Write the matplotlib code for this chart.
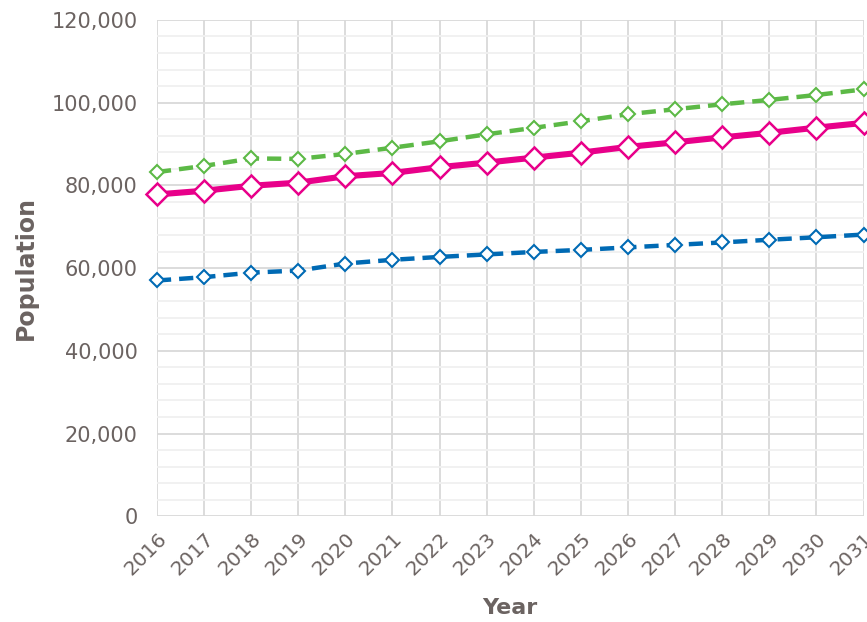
import matplotlib.pyplot as plt
from matplotlib.ticker import MultipleLocator, FuncFormatter

years = list(range(2016, 2032))

# projected population series
high = [83200, 84700, 86500, 86400, 87600, 89100, 90650, 92350, 93900,
        95500, 97200, 98400, 99600, 100650, 101850, 103200]
mid = [77800, 78700, 79900, 80650, 82200, 83000, 84400, 85500, 86700,
       87900, 89300, 90400, 91600, 92700, 93950, 95100]
low = [57000, 57800, 58900, 59400, 61100, 62000, 62700, 63300, 63900,
       64400, 65000, 65600, 66200, 66850, 67450, 68100]

text_col = '#6b6361'

fig = plt.figure(figsize=(8.67, 6.22), dpi=100)
ax = fig.add_axes([0.181, 0.170, 0.815, 0.798])

ax.plot(years, high, color='#5cb946', lw=3.2, ls=(0, (3.2, 1.8)),
        marker='D', ms=7.5, mfc='white', mec='#5cb946', mew=1.5, clip_on=False, zorder=3)
ax.plot(years, mid, color='#e8008a', lw=4.4, ls='-',
        marker='D', ms=11, mfc='white', mec='#e8008a', mew=1.8, clip_on=False, zorder=4)
ax.plot(years, low, color='#006ab4', lw=3.2, ls=(0, (3.2, 1.8)),
        marker='D', ms=7.5, mfc='white', mec='#006ab4', mew=1.5, clip_on=False, zorder=3)

ax.set_xlim(2016, 2031)
ax.set_ylim(0, 120000)
ax.set_xticks(years)
ax.yaxis.set_major_locator(MultipleLocator(20000))
ax.yaxis.set_minor_locator(MultipleLocator(4000))
ax.yaxis.set_major_formatter(FuncFormatter(lambda v, p: f'{int(v):,}'))

ax.grid(which='major', color='#d9d9d9', lw=1.3)
ax.grid(which='minor', axis='y', color='#f0f0f0', lw=1.3)
ax.set_axisbelow(True)
for s in ax.spines.values():
    s.set_visible(False)

ax.tick_params(which='both', length=0)
ax.tick_params(axis='y', labelsize=15, labelcolor=text_col, pad=14)
ax.tick_params(axis='x', labelsize=14.5, labelcolor=text_col, pad=9)
plt.setp(ax.get_xticklabels(), rotation=45, ha='right', rotation_mode='anchor')

ax.set_xlabel('Year', fontsize=16, fontweight='bold', color=text_col, labelpad=14)
ax.set_ylabel('Population', fontsize=17, fontweight='bold', color=text_col, labelpad=10)

plt.savefig('out.png', dpi=100)
